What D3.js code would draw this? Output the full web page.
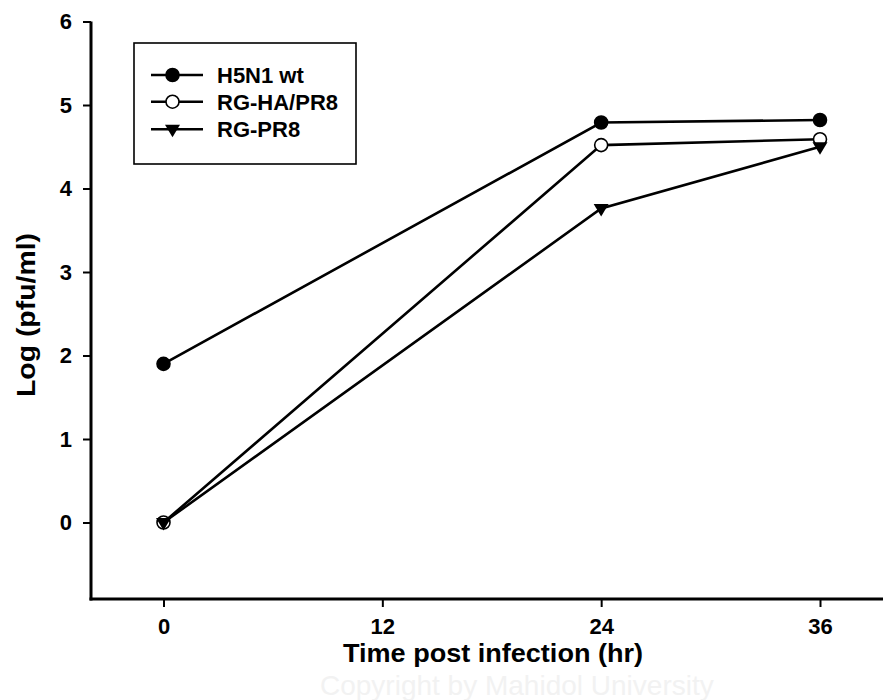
<!DOCTYPE html>
<html>
<head>
<meta charset="utf-8">
<script src="https://cdn.jsdelivr.net/npm/d3@7"></script>
<style>
  html, body { margin: 0; padding: 0; background: #fff; }
  svg { display: block; }
  text { font-family: "Liberation Sans", Arial, sans-serif; font-weight: bold; fill: #000; }
</style>
</head>
<body>
<svg id="chart" width="883" height="700"></svg>
<script>
// Sampling times (hours post infection)
const times = [0, 24, 36];

// Virus titres, log10 pfu/ml
const h5n1Wt  = [1.90, 4.79, 4.82];
const rgHaPr8 = [0.00, 4.52, 4.59];
const rgPr8   = [0.00, 3.76, 4.50];

const seriesNames = ["H5N1 wt", "RG-HA/PR8", "RG-PR8"];
const seriesValues = [h5n1Wt, rgHaPr8, rgPr8];
const seriesMarkers = ["filledCircle", "openCircle", "triangleDown"];

const xTicks = [0, 12, 24, 36];
const yTicks = [0, 1, 2, 3, 4, 5, 6];

const xTitle = "Time post infection (hr)";
const yTitle = "Log (pfu/ml)";

const svg = d3.select("#chart");

// faint copyright watermark behind the plot
svg.append("text")
  .attr("x", 320).attr("y", 695)
  .style("font-weight", "normal")
  .style("font-size", "28px")
  .style("fill", "#f2f2f2")
  .text("Copyright by Mahidol University");

const axisLeft = 91, axisBottom = 599;
const x = d3.scaleLinear().domain([0, 36]).range([163.5, 820]);
const y = d3.scaleLinear().domain([0, 6]).range([522.5, 21.5]);

const tickFont = "22px";

// Y axis
const yAxis = d3.axisLeft(y).tickValues(yTicks).tickFormat(d3.format("d")).tickSize(8).tickPadding(11);
const gy = svg.append("g").attr("transform", `translate(${axisLeft},0)`).call(yAxis);
gy.select(".domain").remove();
gy.append("line").attr("x1", 0).attr("x2", 0).attr("y1", y(6)).attr("y2", axisBottom + 1.5)
  .attr("stroke", "#000").attr("stroke-width", 3);
gy.selectAll(".tick line").attr("stroke", "#000").attr("stroke-width", 2);
gy.selectAll(".tick text").style("font-size", tickFont).style("font-family", "Liberation Sans, Arial, sans-serif").style("font-weight", "bold").attr("fill", "#000");

// X axis
const xAxis = d3.axisBottom(x).tickValues(xTicks).tickFormat(d3.format("d")).tickSize(8).tickPadding(11);
const gx = svg.append("g").attr("transform", `translate(0,${axisBottom})`).call(xAxis);
gx.select(".domain").remove();
gx.append("line").attr("x1", axisLeft - 1.5).attr("x2", 883).attr("y1", 0).attr("y2", 0)
  .attr("stroke", "#000").attr("stroke-width", 3);
gx.selectAll(".tick line").attr("stroke", "#000").attr("stroke-width", 2);
gx.selectAll(".tick text").style("font-size", tickFont).style("font-family", "Liberation Sans, Arial, sans-serif").style("font-weight", "bold").attr("fill", "#000");

// Axis titles
svg.append("text")
  .attr("x", 493).attr("y", 662)
  .attr("text-anchor", "middle")
  .attr("textLength", 300).attr("lengthAdjust", "spacingAndGlyphs")
  .style("font-size", "25px")
  .text(xTitle);

svg.append("text")
  .attr("transform", `translate(35,315) rotate(-90)`)
  .attr("text-anchor", "middle")
  .attr("textLength", 164).attr("lengthAdjust", "spacingAndGlyphs")
  .style("font-size", "25px")
  .text(yTitle);

// Markers
function drawMarker(g, kind, cx, cy) {
  if (kind === "triangleDown") {
    const s = 7.5;
    g.append("path")
      .attr("d", `M${cx - s},${cy - s * 0.6} L${cx + s},${cy - s * 0.6} L${cx},${cy + s * 1.05} Z`)
      .attr("fill", "#000");
  } else {
    g.append("circle")
      .attr("cx", cx).attr("cy", cy).attr("r", 6.5)
      .attr("fill", kind === "openCircle" ? "#fff" : "#000")
      .attr("stroke", "#000").attr("stroke-width", 1.6);
  }
}

const line = d3.line().x(d => x(d[0])).y(d => y(d[1]));
const plot = svg.append("g");

// lines first, then markers on top
seriesValues.forEach(vals => {
  const pts = times.map((t, j) => [t, vals[j]]);
  plot.append("path").datum(pts)
    .attr("d", line)
    .attr("fill", "none").attr("stroke", "#000").attr("stroke-width", 2.6);
});
[0, 1, 2].forEach(i => {
  const vals = seriesValues[i];
  times.forEach((t, j) => drawMarker(plot, seriesMarkers[i], x(t), y(vals[j])));
});

// Legend
const legend = svg.append("g");
legend.append("rect")
  .attr("x", 134).attr("y", 43).attr("width", 222).attr("height", 121)
  .attr("fill", "#fff").attr("stroke", "#000").attr("stroke-width", 1.6);
const rowY = [75, 101.7, 129.3];
seriesNames.forEach((name, i) => {
  legend.append("line")
    .attr("x1", 151).attr("x2", 203).attr("y1", rowY[i]).attr("y2", rowY[i])
    .attr("stroke", "#000").attr("stroke-width", 2.6);
  drawMarker(legend, seriesMarkers[i], 172.5, rowY[i]);
  legend.append("text")
    .attr("x", 217).attr("y", rowY[i] + 8)
    .style("font-size", "22px")
    .text(name);
});
</script>
</body>
</html>
